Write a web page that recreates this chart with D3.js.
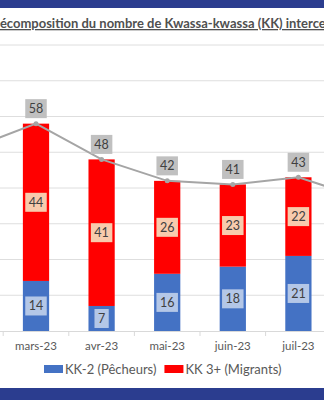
<!DOCTYPE html>
<html><head><meta charset="utf-8">
<script src="https://cdn.jsdelivr.net/npm/d3@7"></script>
<style>html,body{margin:0;padding:0;background:#fff;overflow:hidden}svg{display:block}</style>
</head><body>
<script>
// ---- data ----
const categories = ["févr-23","mars-23","avr-23","mai-23","juin-23","juil-23","août-23"];
const kk2Pecheurs = [null, 14, 7, 16, 18, 21, null];
const kk3Migrants = [null, 44, 41, 26, 23, 22, null];
const totals      = [51, 58, 48, 42, 41, 43, 37];
const yTicks = [0,10,20,30,40,50,60,70,80];
const titleText = "Décomposition du nombre de Kwassa-kwassa (KK) interceptés";
const legendLabels = ["KK-2 (Pêcheurs)", "KK 3+ (Migrants)"];

const W = 324, H = 400;
const FONT = "Lato, 'Open Sans', sans-serif";
const svg = d3.select("body").append("svg").attr("width", W).attr("height", H);

// bands
svg.append("rect").attr("x",0).attr("y",0).attr("width",W).attr("height",8).attr("fill","#2b3d8f");
svg.append("rect").attr("x",0).attr("y",388).attr("width",W).attr("height",12).attr("fill","#2b3d8f");

// title (cropped on both sides, as in the reference)
const title = svg.append("text").attr("font-family",FONT).attr("font-weight","bold")
  .attr("fill","#505050").attr("text-decoration","underline").attr("y",28);
const probe = svg.append("text").attr("font-family",FONT).attr("font-weight","bold");
let fs = 14;
function w(s){ probe.attr("font-size",fs).text(s); return probe.node().getComputedTextLength(); }
for (let i=0;i<6;i++){
  const span = w("Décomposition du nombre de Kwassa-kwassa (KK) interce") - w("D");
  fs = fs * 326 / span;
}
const dW = w("D");
probe.remove();
title.attr("font-size",fs).attr("x",-dW).text(titleText);

// scales
const step = 65.6;
const x = d3.scaleBand().domain(categories)
  .range([36 - step*1.5, 36 + step*5.5]).paddingInner(0.6).paddingOuter(0.3);
const y = d3.scaleLinear().domain([0,80]).range([331,45]);

// gridlines
svg.append("g").selectAll("line").data(yTicks.filter(d=>d>0)).join("line")
  .attr("x1",0).attr("x2",W).attr("y1",d=>y(d)).attr("y2",d=>y(d))
  .attr("stroke","#dedede").attr("stroke-width",1);

const visible = categories.filter((c,i)=>kk2Pecheurs[i]!=null);

// x axis
const xAxis = svg.append("g").attr("transform",`translate(0,${y(0)})`)
  .call(d3.axisBottom(x).tickSize(0).tickPadding(11)
    .tickFormat(c => visible.includes(c) ? c : ""));
xAxis.select(".domain").attr("stroke","#d9d9d9");
xAxis.selectAll("text").attr("font-family",FONT).attr("font-size",11.5).attr("fill","#595959");
// category boundary ticks
const gap = (x.step()-x.bandwidth())/2;
xAxis.selectAll(".sep").data(categories.slice(1)).join("line").attr("class","sep")
  .attr("x1",d=>x(d)-gap).attr("x2",d=>x(d)-gap)
  .attr("y1",0).attr("y2",5).attr("stroke","#d9d9d9");

const idx = categories.map((c,i)=>i).filter(i=>kk2Pecheurs[i]!=null);

// bars
const bars = svg.append("g");
bars.selectAll(".b").data(idx).join("rect").attr("class","b")
  .attr("x",i=>x(categories[i])).attr("width",x.bandwidth())
  .attr("y",i=>y(kk2Pecheurs[i])).attr("height",i=>y(0)-y(kk2Pecheurs[i]))
  .attr("fill","#4472c4");
bars.selectAll(".r").data(idx).join("rect").attr("class","r")
  .attr("x",i=>x(categories[i])).attr("width",x.bandwidth())
  .attr("y",i=>y(kk2Pecheurs[i]+kk3Migrants[i])).attr("height",i=>y(kk2Pecheurs[i])-y(kk2Pecheurs[i]+kk3Migrants[i]))
  .attr("fill","#ff0000");

// total line
const cx = c => x(c) + x.bandwidth()/2;
svg.append("path").datum(totals)
  .attr("d", d3.line().x((d,i)=>cx(categories[i])).y(d=>y(d)))
  .attr("fill","none").attr("stroke","#a5a5a5").attr("stroke-width",2);
svg.append("g").selectAll("circle").data(totals).join("circle")
  .attr("cx",(d,i)=>cx(categories[i])).attr("cy",d=>y(d)).attr("r",2.5).attr("fill","#a5a5a5");

// labels
function label(xc, yc, txt, bg){
  const g = svg.append("g");
  const t = g.append("text").attr("x",xc).attr("y",yc).attr("text-anchor","middle")
    .attr("dominant-baseline","central").attr("font-family",FONT).attr("font-size",12.5)
    .attr("fill","#404040").text(txt);
  const tw = t.node().getComputedTextLength();
  g.insert("rect","text").attr("x",xc-tw/2-3.5).attr("y",yc-9.5).attr("width",tw+7).attr("height",19).attr("fill",bg);
}
idx.forEach(i=>{
  const c = cx(categories[i]);
  label(c, (y(0)+y(kk2Pecheurs[i]))/2, kk2Pecheurs[i], "#b4c7e7");
  label(c, (y(kk2Pecheurs[i])+y(kk2Pecheurs[i]+kk3Migrants[i]))/2, kk3Migrants[i], "#f8cbad");
  label(c, y(totals[i]) - 15, totals[i], "#c0c0c0");
});

// legend
const leg = svg.append("g").attr("font-family",FONT).attr("font-size",13).attr("fill","#595959");
const colors = ["#4472c4","#ff0000"];
let lx = 44;
legendLabels.forEach((l,k)=>{
  leg.append("rect").attr("x",lx).attr("y",365).attr("width",19).attr("height",8).attr("fill",colors[k]);
  const t = leg.append("text").attr("x",lx+21).attr("y",369).attr("dominant-baseline","central").text(l);
  lx += 21 + t.node().getComputedTextLength() + 8;
});
</script>
</body></html>
